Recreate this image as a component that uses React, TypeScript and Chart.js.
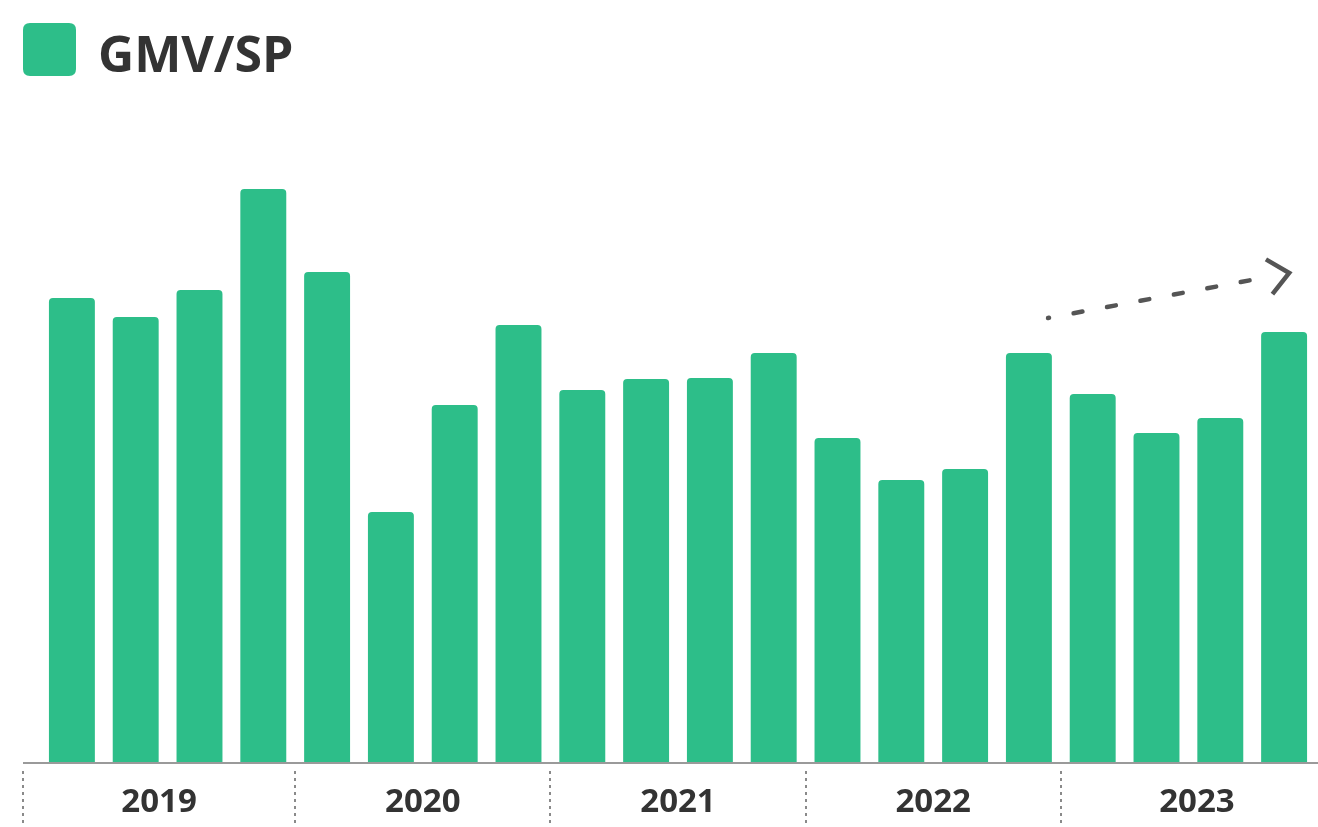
import React, { useEffect, useRef } from "react";
import { Chart, registerables } from "chart.js";

Chart.register(...registerables);

// Quarterly GMV per seller, 2019 Q1 – 2023 Q4
const years = ["2019", "2020", "2021", "2022", "2023"];
const quartersPerYear = 4;
const categories = years.flatMap((y) => ["Q1", "Q2", "Q3", "Q4"].map((q) => `${y} ${q}`));
const seriesName = "GMV/SP";
const gmvPerSp = [464, 445, 472, 573, 490, 250, 357, 437, 372, 383, 384, 409, 324, 282, 293, 409, 368, 329, 344, 430];

// Upward trend arrow: [category position, value]
const trendFrom = [15.3, 444];
const trendTo = [19.08, 489];

const BAR_COLOR = "#2DBE89";
const TEXT_COLOR = "#333333";
const AXIS_COLOR = "#9a9a9a";
const FONT = "'Open Sans', 'Noto Sans', sans-serif";
const AXIS_OVERHANG = 17;

function roundRect(ctx: CanvasRenderingContext2D, x: number, y: number, w: number, h: number, r: number) {
  ctx.beginPath();
  ctx.moveTo(x + r, y);
  ctx.lineTo(x + w - r, y);
  ctx.quadraticCurveTo(x + w, y, x + w, y + r);
  ctx.lineTo(x + w, y + h - r);
  ctx.quadraticCurveTo(x + w, y + h, x + w - r, y + h);
  ctx.lineTo(x + r, y + h);
  ctx.quadraticCurveTo(x, y + h, x, y + h - r);
  ctx.lineTo(x, y + r);
  ctx.quadraticCurveTo(x, y, x + r, y);
  ctx.closePath();
}

// Legend swatch + series name in the top-left corner
const legendPlugin = {
  id: "seriesLegend",
  afterDraw(chart: any) {
    const { ctx } = chart;
    const ds = chart.data.datasets[0];
    ctx.save();
    ctx.fillStyle = ds.backgroundColor;
    roundRect(ctx, 23, 23, 53, 53, 7);
    ctx.fill();
    ctx.fillStyle = TEXT_COLOR;
    ctx.font = `bold 50px ${FONT}`;
    ctx.textAlign = "left";
    ctx.textBaseline = "alphabetic";
    ctx.fillText(ds.label, 98, 72);
    ctx.restore();
  },
};

const yearAxisPlugin = {
  id: "yearAxis",
  afterDraw(chart: any) {
    const { ctx, chartArea, scales } = chart;
    const x = scales.x;
    const bottom = chartArea.bottom;
    const leftEdge = chartArea.left - AXIS_OVERHANG;
    const rightEdge = chartArea.right + AXIS_OVERHANG;
    ctx.save();

    // baseline
    ctx.strokeStyle = AXIS_COLOR;
    ctx.lineWidth = 2;
    ctx.beginPath();
    ctx.moveTo(leftEdge, bottom + 1);
    ctx.lineTo(chartArea.right + 2, bottom + 1);
    ctx.stroke();

    // year separators
    const seps: number[] = years.map((_, i) =>
      i === 0
        ? leftEdge
        : (x.getPixelForValue(i * quartersPerYear - 1) + x.getPixelForValue(i * quartersPerYear)) / 2
    );
    ctx.setLineDash([3, 4]);
    ctx.strokeStyle = "#8a8a8a";
    ctx.lineWidth = 2;
    seps.forEach((sx) => {
      ctx.beginPath();
      ctx.moveTo(Math.round(sx), bottom + 9);
      ctx.lineTo(Math.round(sx), bottom + 65);
      ctx.stroke();
    });
    ctx.setLineDash([]);

    // year labels
    ctx.fillStyle = TEXT_COLOR;
    ctx.font = `bold 33px ${FONT}`;
    ctx.textAlign = "center";
    ctx.textBaseline = "middle";
    years.forEach((label, i) => {
      const l = seps[i];
      const r = i + 1 < seps.length ? seps[i + 1] : rightEdge;
      ctx.fillText(label, (l + r) / 2, bottom + 41);
    });

    // trend arrow
    const px = (pos: number) => {
      const i = Math.floor(pos);
      const step = x.getPixelForValue(1) - x.getPixelForValue(0);
      return x.getPixelForValue(i) + (pos - i) * step;
    };
    const y = scales.y;
    const x0 = px(trendFrom[0]);
    const y0 = y.getPixelForValue(trendFrom[1]);
    const x1 = px(trendTo[0]);
    const y1 = y.getPixelForValue(trendTo[1]);
    const ang = Math.atan2(y1 - y0, x1 - x0);
    const lineEnd = Math.hypot(x1 - x0, y1 - y0) - 24;
    ctx.strokeStyle = "#555555";
    ctx.lineWidth = 4.5;
    ctx.lineCap = "round";
    ctx.setLineDash([9, 25]);
    ctx.lineDashOffset = 8;
    ctx.beginPath();
    ctx.moveTo(x0, y0);
    ctx.lineTo(x0 + Math.cos(ang) * lineEnd, y0 + Math.sin(ang) * lineEnd);
    ctx.stroke();
    ctx.setLineDash([]);
    ctx.lineCap = "butt";
    const head = 27;
    const spread = (41 * Math.PI) / 180;
    ctx.beginPath();
    ctx.moveTo(x1 + Math.cos(ang + Math.PI - spread) * head, y1 + Math.sin(ang + Math.PI - spread) * head);
    ctx.lineTo(x1, y1);
    ctx.lineTo(x1 + Math.cos(ang + Math.PI + spread) * head, y1 + Math.sin(ang + Math.PI + spread) * head);
    ctx.stroke();

    ctx.restore();
  },
};

export default function App() {
  const canvasRef = useRef<HTMLCanvasElement | null>(null);

  useEffect(() => {
    if (!canvasRef.current) return;
    const chart = new Chart(canvasRef.current, {
      type: "bar",
      data: {
        labels: categories,
        datasets: [
          {
            label: seriesName,
            data: gmvPerSp,
            backgroundColor: BAR_COLOR,
            borderWidth: 0,
            borderRadius: 4,
            barPercentage: 0.72,
            categoryPercentage: 1,
          },
        ],
      },
      options: {
        animation: false,
        responsive: false,
        maintainAspectRatio: false,
        events: [],
        layout: { padding: { left: 0, right: 2, top: 99, bottom: 65 } },
        plugins: {
          tooltip: { enabled: false },
          legend: { display: false },
        },
        scales: {
          x: { display: false, offset: true },
          y: {
            display: true,
            min: 0,
            max: 663,
            ticks: { display: false },
            grid: { display: false },
            border: { display: false },
            afterFit: (scale: any) => {
              scale.width = 40;
            },
          },
        },
      },
      plugins: [yearAxisPlugin, legendPlugin],
    });
    return () => chart.destroy();
  }, []);

  return (
    <div style={{ position: "fixed", left: 0, top: 0, width: 1318, height: 827, background: "#ffffff" }}>
      <canvas ref={canvasRef} width={1318} height={827} style={{ display: "block" }} />
    </div>
  );
}
